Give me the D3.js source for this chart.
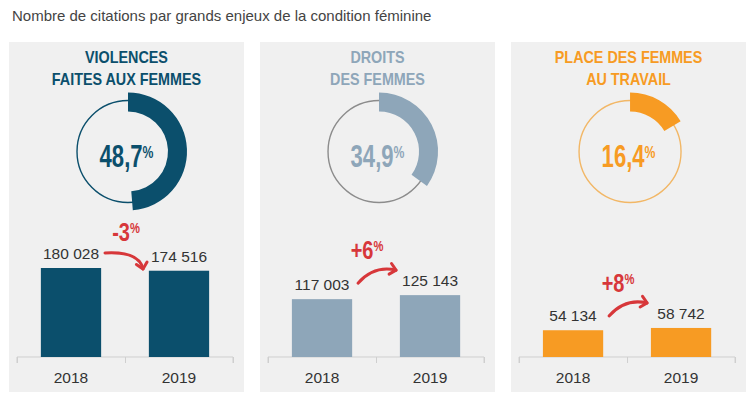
<!DOCTYPE html>
<html>
<head>
<meta charset="utf-8">
<script src="https://cdn.jsdelivr.net/npm/d3@7"></script>
<style>
  body { margin: 0; background: #fff; }
  svg { display: block; font-family: "Liberation Sans", Arial, sans-serif; }
</style>
</head>
<body>
<div id="chart"></div>
<script>
// data
const titre = "Nombre de citations par grands enjeux de la condition féminine";
const titres = [["VIOLENCES", "FAITES AUX FEMMES"], ["DROITS", "DES FEMMES"], ["PLACE DES FEMMES", "AU TRAVAIL"]];
const parts = [48.7, 34.9, 16.4];
const annees = ["2018", "2019"];
const valeurs2018 = [180028, 117003, 54134];
const valeurs2019 = [174516, 125143, 58742];
const evolutions = ["-3", "+6", "+8"];
const couleurs = ["#0b4f6c", "#8ea6b9", "#f79b23"];
const cercles = ["#0b4f6c", "#8c8c8c", "#f2b766"];

const W = 750, H = 396;
const rouge = "#d7373a";
const fr = d3.formatLocale({decimal: ",", thousands: " ", grouping: [3], currency: ["", " €"]});
const fmtN = fr.format(",d"), fmtP = fr.format(".1f");

const svg = d3.select("#chart").append("svg")
    .attr("width", W)
    .attr("height", H);

svg.append("text")
    .attr("x", 12)
    .attr("y", 21)
    .attr("font-size", 15)
    .attr("fill", "#444")
    .text(titre);

// panels
const px = d3.scaleBand().domain(d3.range(3)).range([9, 746]).paddingInner(0.064);
const pw = px.bandwidth();
const y = d3.scaleLinear().domain([0, 180028]).range([357, 268]);
const x = d3.scaleBand().domain(annees).range([8, 224]).paddingInner(0.442).paddingOuter(0.221);
const arc = d3.arc().innerRadius(40).outerRadius(59).startAngle(0);
const cx = 119, cy = 151.5;

d3.range(3).forEach(i => {
    const g = svg.append("g").attr("transform", `translate(${px(i)},0)`);
    const col = couleurs[i];
    const vals = [valeurs2018[i], valeurs2019[i]];

    g.append("rect")
        .attr("x", 0).attr("y", 42)
        .attr("width", pw).attr("height", 350)
        .attr("fill", "#f0f0f0");

    // title
    titres[i].forEach((t, j) => {
        g.append("text")
            .attr("transform", `translate(${pw / 2},${63 + j * 22}) scale(0.87,1)`)
            .attr("text-anchor", "middle")
            .attr("font-size", 16.5)
            .attr("font-weight", "bold")
            .attr("fill", col)
            .text(t);
    });

    // donut
    g.append("circle")
        .attr("cx", cx).attr("cy", cy).attr("r", 51)
        .attr("fill", "none")
        .attr("stroke", cercles[i])
        .attr("stroke-width", 1.4);
    g.append("path")
        .attr("transform", `translate(${cx},${cy})`)
        .attr("d", arc({endAngle: parts[i] / 100 * 2 * Math.PI}))
        .attr("fill", col);

    const pt = g.append("text")
        .attr("transform", `translate(${cx - 1.5},167) scale(0.72,1)`)
        .attr("text-anchor", "middle")
        .attr("font-size", 30.7)
        .attr("font-weight", "bold")
        .attr("fill", col);
    pt.append("tspan").text(fmtP(parts[i]));
    pt.append("tspan").attr("font-size", 17).attr("dy", -9).text("%");

    // axis
    const ax = g.append("g").attr("transform", `translate(0,${y(0)})`)
        .call(d3.axisBottom(d3.scaleLinear().domain([0, 2]).range(x.range())).ticks(2).tickSize(6).tickFormat(""));
    ax.select(".domain").attr("stroke", "#cfcfcf").attr("d", `M${x.range()[0]},6V0H${x.range()[1]}V6`);
    ax.selectAll(".tick line").attr("stroke", "#cfcfcf");

    // bars
    g.selectAll(".bar").data(annees).enter().append("rect")
        .attr("x", d => x(d))
        .attr("y", (d, k) => y(vals[k]))
        .attr("width", x.bandwidth())
        .attr("height", (d, k) => y(0) - y(vals[k]))
        .attr("fill", col);

    g.selectAll(".val").data(annees).enter().append("text")
        .attr("x", d => x(d) + x.bandwidth() / 2)
        .attr("y", (d, k) => y(vals[k]) - 9)
        .attr("text-anchor", "middle")
        .attr("font-size", 15.5)
        .attr("fill", "#333")
        .text((d, k) => fmtN(vals[k]));

    g.selectAll(".an").data(annees).enter().append("text")
        .attr("x", d => x(d) + x.bandwidth() / 2)
        .attr("y", 383)
        .attr("text-anchor", "middle")
        .attr("font-size", 15.5)
        .attr("fill", "#333")
        .text(d => d);

    // evolution arrow
    const mid = (x.range()[0] + x.range()[1]) / 2;
    const top = y(d3.max(vals));
    const hausse = vals[1] > vals[0];
    let s, c, e, ly, lx;
    if (hausse) {
        s = [mid - 18, top - 12]; c = [mid - 2, top - 30]; e = [mid + 20, top - 25];
        ly = top - 36; lx = mid - 9;
    } else {
        s = [mid - 20, top - 15]; c = [mid + 14, top - 17]; e = [mid + 18, top + 1];
        ly = top - 27; lx = mid + 1;
    }
    const p = d3.path();
    p.moveTo(s[0], s[1]);
    p.quadraticCurveTo(c[0], c[1], e[0], e[1]);
    g.append("path").attr("d", p.toString())
        .attr("fill", "none").attr("stroke", rouge)
        .attr("stroke-width", 3).attr("stroke-linecap", "round");
    const ang = Math.atan2(e[1] - c[1], e[0] - c[0]);
    const head = [-0.75, 0.75].map(da => [e[0] - 8 * Math.cos(ang + da), e[1] - 8 * Math.sin(ang + da)]);
    g.append("path")
        .attr("d", d3.line()([head[0], e, head[1]]))
        .attr("fill", "none").attr("stroke", rouge)
        .attr("stroke-width", 3).attr("stroke-linecap", "round").attr("stroke-linejoin", "round");

    const lt = g.append("text")
        .attr("transform", `translate(${lx},${ly}) scale(0.8,1)`)
        .attr("text-anchor", "middle")
        .attr("font-size", 25)
        .attr("font-weight", "bold")
        .attr("fill", rouge);
    lt.append("tspan").text(evolutions[i]);
    lt.append("tspan").attr("font-size", 14).attr("dy", -8).text("%");
});
</script>
</body>
</html>
